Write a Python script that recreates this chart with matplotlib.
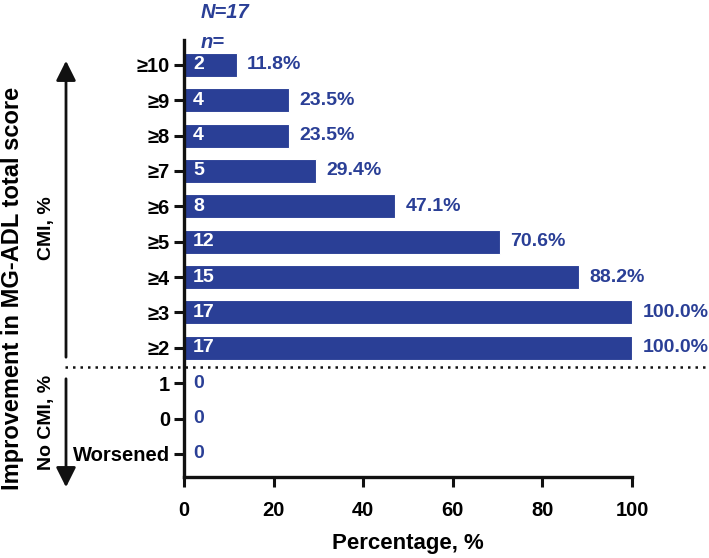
import matplotlib
matplotlib.use("Agg")
import matplotlib.pyplot as plt
from matplotlib.patches import FancyArrowPatch
from matplotlib.lines import Line2D

categories = ["≥10", "≥9", "≥8", "≥7", "≥6", "≥5", "≥4", "≥3", "≥2", "1", "0", "Worsened"]
counts = [2, 4, 4, 5, 8, 12, 15, 17, 17, 0, 0, 0]
percents = [11.8, 23.5, 23.5, 29.4, 47.1, 70.6, 88.2, 100.0, 100.0, 0, 0, 0]
xticks = [0, 20, 40, 60, 80, 100]

plt.rcParams['font.family'] = ['Liberation Sans', 'DejaVu Sans']
plt.rcParams['font.weight'] = 'bold'
blue = "#2a3f96"
dark = "#111111"
fs = 14.5
vfs = 14

fig = plt.figure(figsize=(7.09, 5.58), dpi=100)
ax = fig.add_axes([0.2595, 0.1452, 0.8914 - 0.2595, 0.9283 - 0.1452])

ypos = list(range(len(categories)))
ax.barh(ypos, percents, height=0.68, color=blue, edgecolor="white", linewidth=0.8)

for y, c, p in zip(ypos, counts, percents):
    if p > 0:
        ax.text(2.0, y, str(c), color="white", fontsize=vfs, fontweight="bold", va="center", ha="left")
        ax.text(p + 2.3, y, f"{p:.1f}%", color=blue, fontsize=vfs, fontweight="bold", va="center", ha="left")
    else:
        ax.text(2.0, y, str(c), color=blue, fontsize=vfs, fontweight="bold", va="center", ha="left")

ax.set_yticks(ypos)
ax.set_yticklabels(categories)
ax.set_ylim(11.65, -0.7)
ax.set_xlim(0, 100)
ax.set_xticks(xticks)
ax.tick_params(axis="both", labelsize=fs, width=2.2, length=7, color=dark)
ax.tick_params(axis="x", pad=10)
ax.tick_params(axis="y", pad=3)
for s in ["top", "right"]:
    ax.spines[s].set_visible(False)
for s in ["left", "bottom"]:
    ax.spines[s].set_linewidth(2.4)
    ax.spines[s].set_color(dark)
ax.set_xlabel("Percentage, %", fontsize=16, fontweight="bold", labelpad=10)

# dotted separator
fig.add_artist(Line2D([65 / 709, 709 / 709], [1 - 367 / 558, 1 - 367 / 558],
                      transform=fig.transFigure, color=dark, linestyle=(0, (1, 2)), linewidth=1.8))

# arrows
fig.add_artist(FancyArrowPatch((66 / 709, 1 - 360 / 558), (66 / 709, 1 - 58 / 558),
               transform=fig.transFigure, arrowstyle="-|>,head_length=8,head_width=4",
               color=dark, linewidth=2, mutation_scale=1.5))
fig.add_artist(FancyArrowPatch((66 / 709, 1 - 376 / 558), (66 / 709, 1 - 490 / 558),
               transform=fig.transFigure, arrowstyle="-|>,head_length=8,head_width=4",
               color=dark, linewidth=2, mutation_scale=1.5))

fig.text(13 / 709, 1 - 288 / 558, "Improvement in MG-ADL total score", rotation=90, fontsize=17,
         fontweight="bold", ha="center", va="center")
fig.text(46 / 709, 1 - 228 / 558, "CMI, %", rotation=90, fontsize=14, fontweight="bold", ha="center", va="center")
fig.text(46 / 709, 1 - 422 / 558, "No CMI, %", rotation=90, fontsize=14, fontweight="bold", ha="center", va="center")

fig.text(201 / 709, 1 - 12 / 558, "N=17", color=blue, fontsize=14.5, fontweight="bold", style="italic", ha="left", va="center")
fig.text(201 / 709, 1 - 43 / 558, "n=", color=blue, fontsize=14.5, fontweight="bold", style="italic", ha="left", va="center")

fig.savefig("out.png", dpi=100)
